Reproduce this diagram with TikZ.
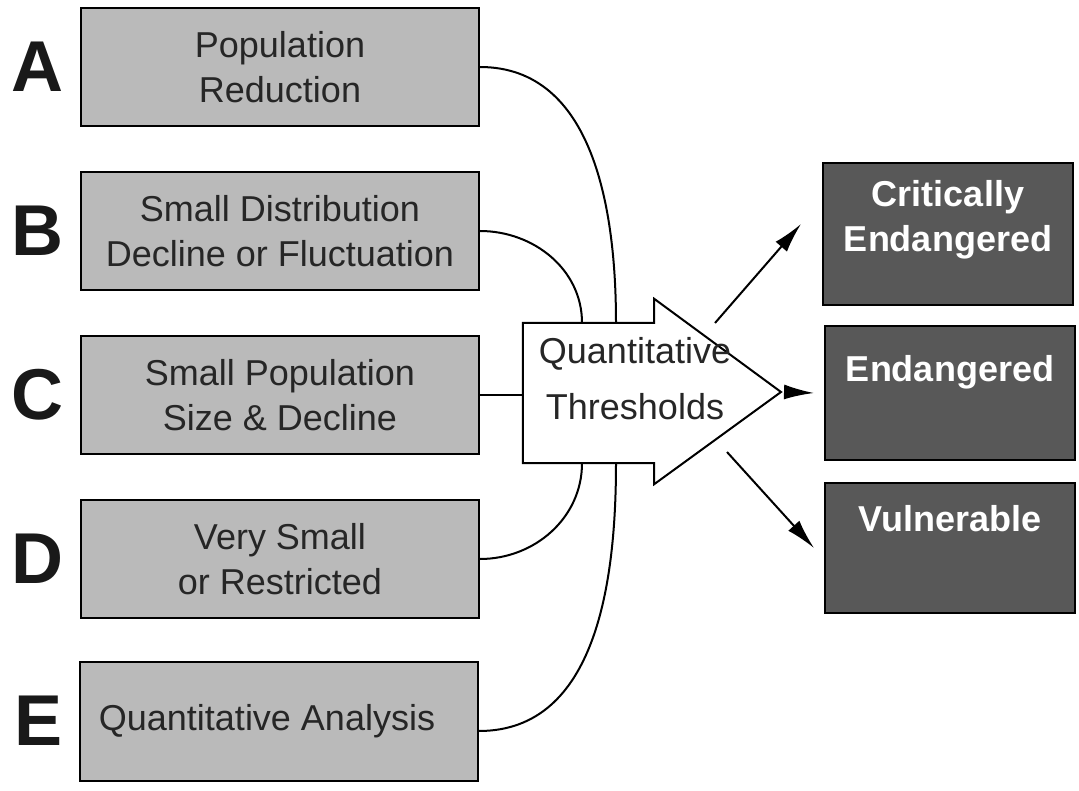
\documentclass[tikz,border=0pt]{standalone}
\usepackage{fontspec}
\setmainfont{Liberation Sans}
\usetikzlibrary{positioning,arrows.meta}
\definecolor{critfill}{RGB}{186,186,186}
\definecolor{catfill}{RGB}{88,88,88}

\begin{document}
\begin{tikzpicture}[x=1pt,y=-1pt,node distance=16pt,>={Latex[length=30pt,width=15pt]},
    critbox/.style={draw, line width=2pt, fill=critfill, minimum width=398pt, minimum height=118pt,
      align=center, text=black!85, font=\fontsize{36}{45}\selectfont},
    catbox/.style={draw, line width=2pt, fill=catfill, minimum width=250pt},
    catlbl/.style={inner sep=0pt, align=center, text=white, font=\fontsize{36}{45}\selectfont\bfseries},
    letter/.style={inner sep=0pt, text=black!90, font=\fontsize{72}{72}\selectfont\bfseries},
    conn/.style={line width=2pt}]
    \useasboundingbox (0,0) rectangle (1079,791);

    % criteria
    \node (A) [critbox] at (280,67) {Population\\Reduction};
    \node (B) [critbox] at (280,231) {Small Distribution\\Decline or Fluctuation};
    \node (C) [critbox] at (280,395) {Small Population\\Size \& Decline};
    \node (D) [critbox] at (280,559) {Very Small\\or Restricted};
    \node (E) [critbox, minimum height=119pt] at (279,721) {Quantitative Analysis\hspace*{24pt}};

    \node (la) [letter, left=of A] {A};
    \node (lb) [letter, left=of B] {B};
    \node (lc) [letter, left=of C] {C};
    \node (ld) [letter, left=of D] {D};
    \node (le) [letter, left=of E] {E};

    % thresholds arrow
    \node (thr) [minimum width=131pt, minimum height=140pt, inner sep=0pt] at (588.5,393) {};
    \coordinate (tip) at (781,392);

    \draw[conn] (A.east) to[out=0,in=90] ([xshift=27.5pt]thr.north);
    \draw[conn] (B.east) to[out=0,in=90] ([xshift=-6.5pt]thr.north);
    \draw[conn] (C.east) -- (C.east -| thr.west);
    \draw[conn] (D.east) to[out=0,in=-90] ([xshift=-6.5pt]thr.south);
    \draw[conn] ([yshift=-10pt]E.east) to[out=0,in=-90] ([xshift=27.5pt]thr.south);

    \draw[conn, fill=white, line join=miter]
      (thr.north west) -- (thr.north east) -- ++(0,-24) -- (tip)
      -- ([yshift=-21pt]thr.south east) -- (thr.south east) -- (thr.south west) -- cycle;
    \node (thrtxt) [align=center, text=black!85, font=\fontsize{36}{56}\selectfont] at (635,379)
      {Quantitative\\Thresholds};

    % categories
    \node (crit) [catbox, minimum height=142pt] at (948,234) {};
    \node (endg) [catbox, minimum height=133pt] at (950,393) {};
    \node (vuln) [catbox, minimum height=130pt] at (950,548) {};

    \node (critlbl) [catlbl, below=18pt of crit.north] {Critically\\Endangered};
    \node (endglbl) [catlbl, below=30pt of endg.north] {Endangered};
    \node (vulnlbl) [catlbl, below=23pt of vuln.north] {Vulnerable};

    \coordinate (o1) at (715,323);
    \coordinate (o3) at (727,452);
    \draw[conn, ->] (o1) -- ([shift={(-21,-10)}]crit.west);
    \draw[conn, ->] ([xshift=4pt]tip) -- ([xshift=-10pt]endg.west);
    \draw[conn, ->] (o3) -- ([xshift=-10pt]vuln.west);
  \end{tikzpicture}
\end{document}
